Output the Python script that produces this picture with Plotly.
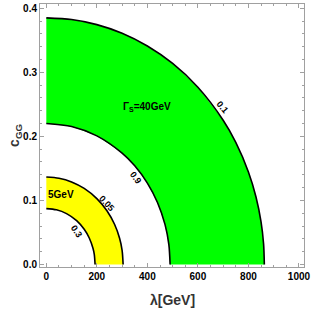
import plotly.graph_objects as go

# Contour Γ_S = 40 GeV band (green)
lam_g_out = [0, 100, 200, 300, 400, 500, 600, 700, 750, 800, 830, 850, 860, 863]
c_g_out = [0.385, 0.3824, 0.3745, 0.3610, 0.3411, 0.3138, 0.2767, 0.2252, 0.1905, 0.1444, 0.1054, 0.0666, 0.0321, 0.0]
lam_g_in = [0, 100, 200, 300, 350, 400, 440, 470, 485, 490]
c_g_in = [0.22, 0.2154, 0.2008, 0.1739, 0.1540, 0.1271, 0.0968, 0.0622, 0.0313, 0.0]

# Contour Γ_S = 5 GeV band (yellow)
lam_y_out = [0, 50, 100, 150, 200, 240, 270, 290, 300, 304]
c_y_out = [0.1365, 0.1346, 0.1289, 0.1187, 0.1028, 0.0838, 0.0627, 0.0409, 0.0221, 0.0]
lam_y_in = [0, 40, 80, 120, 150, 170, 185, 190, 193]
c_y_in = [0.0872, 0.0853, 0.0794, 0.0683, 0.0549, 0.0413, 0.0248, 0.0153, 0.0]

# contour labels: (text, lambda, c, angle)
contour_labels = [("0.1", 696, 0.2455, 50), ("0.9", 354, 0.1344, 53),
                  ("0.05", 242, 0.095, 47), ("0.3", 121, 0.0508, 57)]
band_labels = [("Γ<sub>S</sub>=40GeV", 398, 0.2466), ("5GeV", 57, 0.1095)]

fig = go.Figure()

def band(lo_x, lo_y, hi_x, hi_y, color):
    xs = list(hi_x) + list(reversed(lo_x))
    ys = list(hi_y) + list(reversed(lo_y))
    fig.add_trace(go.Scatter(x=xs, y=ys, fill="toself", fillcolor=color,
                             mode="lines", line=dict(width=0, color=color),
                             hoverinfo="skip", showlegend=False))

band(lam_g_in, c_g_in, lam_g_out, c_g_out, "#00ff00")
band(lam_y_in, c_y_in, lam_y_out, c_y_out, "#ffff00")

for xs, ys in [(lam_g_out, c_g_out), (lam_g_in, c_g_in), (lam_y_out, c_y_out), (lam_y_in, c_y_in)]:
    fig.add_trace(go.Scatter(x=xs, y=ys, mode="lines",
                             line=dict(color="black", width=1.6, shape="spline", smoothing=0.8),
                             showlegend=False))

font_b = "Liberation Sans, Arial, sans-serif"
for t, x, y, a in contour_labels:
    fig.add_annotation(x=x, y=y, text="<b>" + t + "</b>", textangle=a, showarrow=False,
                       font=dict(family=font_b, size=9, color="black"))
for t, x, y in band_labels:
    fig.add_annotation(x=x, y=y, text="<b>" + t + "</b>", showarrow=False,
                       font=dict(family=font_b, size=10, color="black"))

fig.add_annotation(xref="paper", yref="paper", x=0.5, y=-0.125, yanchor="middle",
                   text="<b>λ[GeV]</b>", showarrow=False,
                   font=dict(family=font_b, size=14, color="#333"))
fig.add_annotation(xref="paper", yref="paper", x=-0.097, y=0.5, xanchor="center",
                   text="<b>c<sub>GG</sub></b>", textangle=-90, showarrow=False,
                   font=dict(family=font_b, size=14, color="#333"))

axis_common = dict(showgrid=False, zeroline=False, showline=True, linecolor="#a0a0a0",
                   linewidth=1, mirror="ticks", ticks="inside", ticklen=4,
                   tickcolor="#a0a0a0", ticklabeloverflow="allow",
                   tickfont=dict(family=font_b, size=10, color="black"))
fig.update_xaxes(range=[-25, 1020], tickvals=[0, 200, 400, 600, 800, 1000],
                 ticktext=["<b>0</b>", "<b>200</b>", "<b>400</b>", "<b>600</b>", "<b>800</b>", "<b>1000</b>"],
                 minor=dict(dtick=50, tick0=0, ticks="inside", ticklen=2, tickcolor="#a0a0a0"),
                 **axis_common)
fig.update_yaxes(range=[-0.004, 0.4067], tickvals=[0, 0.1, 0.2, 0.3, 0.4],
                 ticktext=["<b>0.0</b>", "<b>0.1</b>", "<b>0.2</b>", "<b>0.3</b>", "<b>0.4</b>"],
                 minor=dict(dtick=0.02, tick0=0, ticks="inside", ticklen=2, tickcolor="#a0a0a0"),
                 **axis_common)

fig.update_layout(width=313, height=309, margin=dict(l=40, r=6, t=3, b=42),
                  plot_bgcolor="white", paper_bgcolor="white", showlegend=False)
fig.write_html("out.html", config={"displayModeBar": False},
               post_script="document.body.style.margin='0';document.body.style.overflow='hidden';")
